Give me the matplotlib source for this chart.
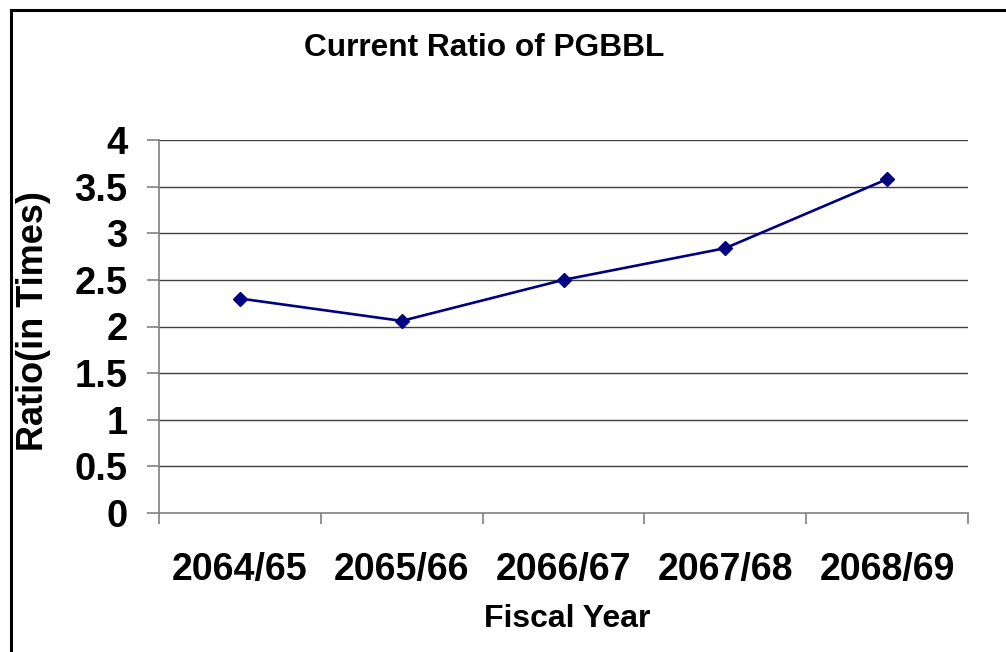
import matplotlib
matplotlib.use('Agg')
import matplotlib.pyplot as plt
from matplotlib.patches import Rectangle

years = ['2064/65', '2065/66', '2066/67', '2067/68', '2068/69']
ratios = [2.30, 2.06, 2.50, 2.84, 3.58]
y_ticks = [0, 0.5, 1, 1.5, 2, 2.5, 3, 3.5, 4]
y_labels = ['0', '0.5', '1', '1.5', '2', '2.5', '3', '3.5', '4']

plt.rcParams['font.family'] = ['Liberation Sans', 'DejaVu Sans']
plt.rcParams['font.weight'] = 'bold'

W, H = 1006, 652
fig = plt.figure(figsize=(W / 100, H / 100), dpi=100)
ax = fig.add_axes([159 / W, 1 - 513 / H, (968 - 159) / W, (513 - 140) / H])

# frame around the chart (right and bottom are cut off in the reference)
fig.patches.append(Rectangle((11 / W, -0.1), 1.2, 1 - 10 / H + 0.1,
                             transform=fig.transFigure, fill=False,
                             edgecolor='black', linewidth=2.2))

x = range(len(years))
ax.plot(x, ratios, color='#000080', linewidth=1.9, marker='D', markersize=7.5)

ax.set_xlim(-0.5, len(years) - 0.5)
ax.set_ylim(0, 4)
ax.set_yticks(y_ticks)
ax.set_yticklabels(y_labels, fontsize=27.5, fontweight='bold')
ax.set_xticks([i - 0.5 for i in range(len(years) + 1)])
ax.set_xticklabels([])
ax.set_xticks(list(x), minor=True)
ax.set_xticklabels(years, minor=True, fontsize=27, fontweight='bold')
ax.tick_params(axis='x', which='minor', length=0, pad=28)
ax.tick_params(axis='x', which='major', length=8, color='#808080', width=1.2)
ax.tick_params(axis='y', length=8.5, color='#808080', width=1.2, pad=14)

for v in y_ticks[1:]:
    ax.axhline(v, color='#404040', linewidth=1.0, zorder=0)

for side in ['top', 'right']:
    ax.spines[side].set_visible(False)
for side in ['left', 'bottom']:
    ax.spines[side].set_color('#808080')
    ax.spines[side].set_linewidth(1.2)

fig.text(484 / W, 1 - 48 / H, 'Current Ratio of PGBBL', ha='center', va='center',
         fontsize=22.8, fontweight='bold')
fig.text(567 / W, 1 - 619 / H, 'Fiscal Year', ha='center', va='center',
         fontsize=23, fontweight='bold')
fig.text(34 / W, 1 - 321 / H, 'Ratio(in Times)', ha='center', va='center',
         rotation=90, fontsize=26, fontweight='bold')

fig.savefig('out.png', dpi=100)
